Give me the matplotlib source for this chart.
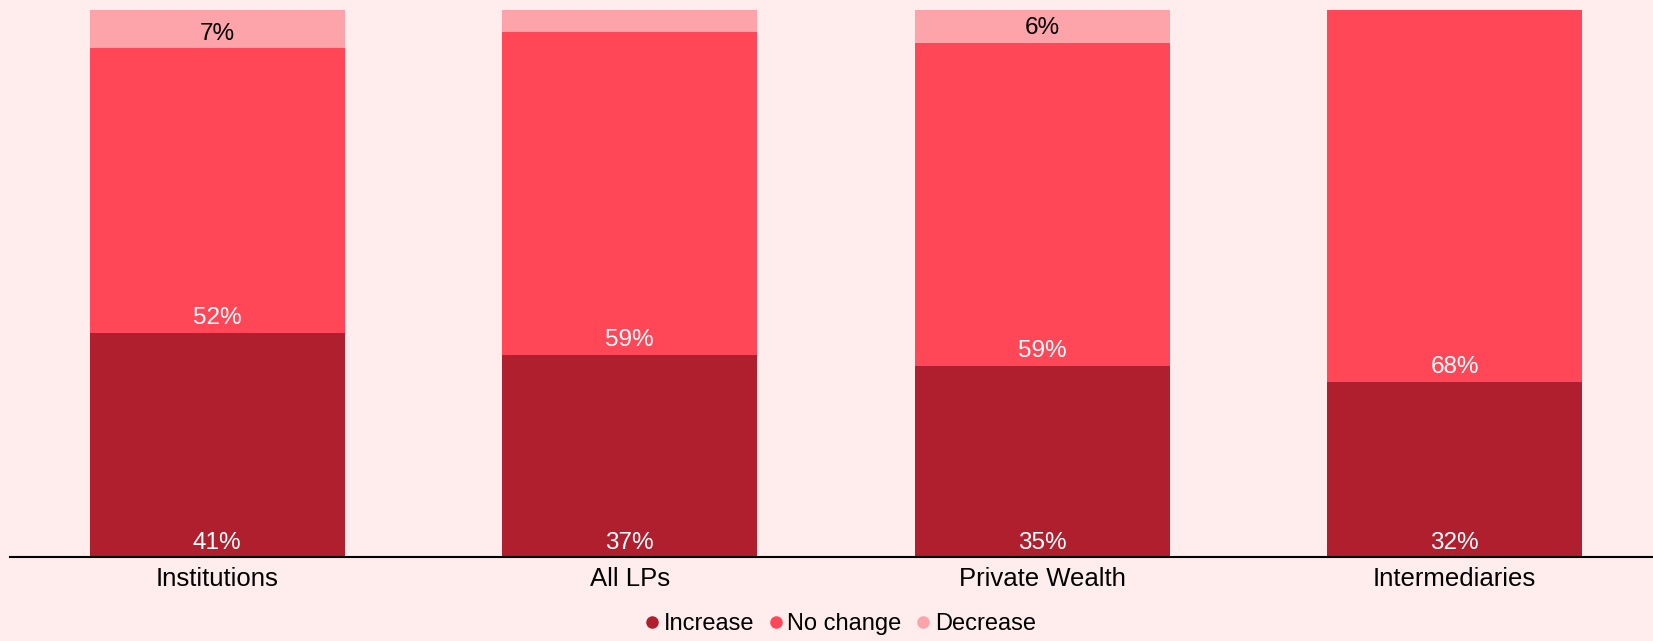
import matplotlib.pyplot as plt
from matplotlib.lines import Line2D

categories = ["Institutions", "All LPs", "Private Wealth", "Intermediaries"]
increase = [41, 37, 35, 32]
no_change = [52, 59, 59, 68]
decrease = [7, 4, 6, 0]
series_names = ["Increase", "No change", "Decrease"]

BG = "#FFECEC"
colors = ["#B01F2E", "#FF4757", "#FCA4A9"]
text_colors = ["white", "white", "black"]

plt.rcParams['font.family'] = ['Liberation Sans', 'DejaVu Sans']

fig = plt.figure(figsize=(16.53, 6.41), dpi=100, facecolor=BG)
ax = fig.add_axes([10 / 1653, 84 / 641, 1643 / 1653, 547 / 641])
ax.set_facecolor(BG)

x = list(range(len(categories)))
width = 0.618
bottoms = [0] * len(categories)
for name, vals, col, tcol in zip(series_names, [increase, no_change, decrease], colors, text_colors):
    ax.bar(x, vals, width, bottom=bottoms, color=col, label=name)
    for xi, b, v in zip(x, bottoms, vals):
        if v >= 5:
            ax.annotate(f"{v}%", (xi, b), xytext=(0, 2.5), textcoords="offset points",
                        ha="center", va="bottom", color=tcol, fontsize=17.5)
    bottoms = [b + v for b, v in zip(bottoms, vals)]

ax.set_xlim(-0.502, 3.481)
ax.set_ylim(0, 100)
ax.set_xticks(x)
ax.set_xticklabels(categories, fontsize=18.5)
ax.tick_params(axis="x", length=0, pad=7)
ax.set_yticks([])
for side in ["top", "right", "left"]:
    ax.spines[side].set_visible(False)
ax.spines["bottom"].set_linewidth(1.5)

handles = [Line2D([], [], marker="o", linestyle="", color=c, markersize=8) for c in colors]
fig.legend(handles, series_names, loc="center", bbox_to_anchor=(838 / 1653, 1 - 624 / 641),
           ncol=3, frameon=False, fontsize=17, handletextpad=0.0, columnspacing=0.4,
           handlelength=1.0)

fig.savefig("out.png", dpi=100, facecolor=BG)
